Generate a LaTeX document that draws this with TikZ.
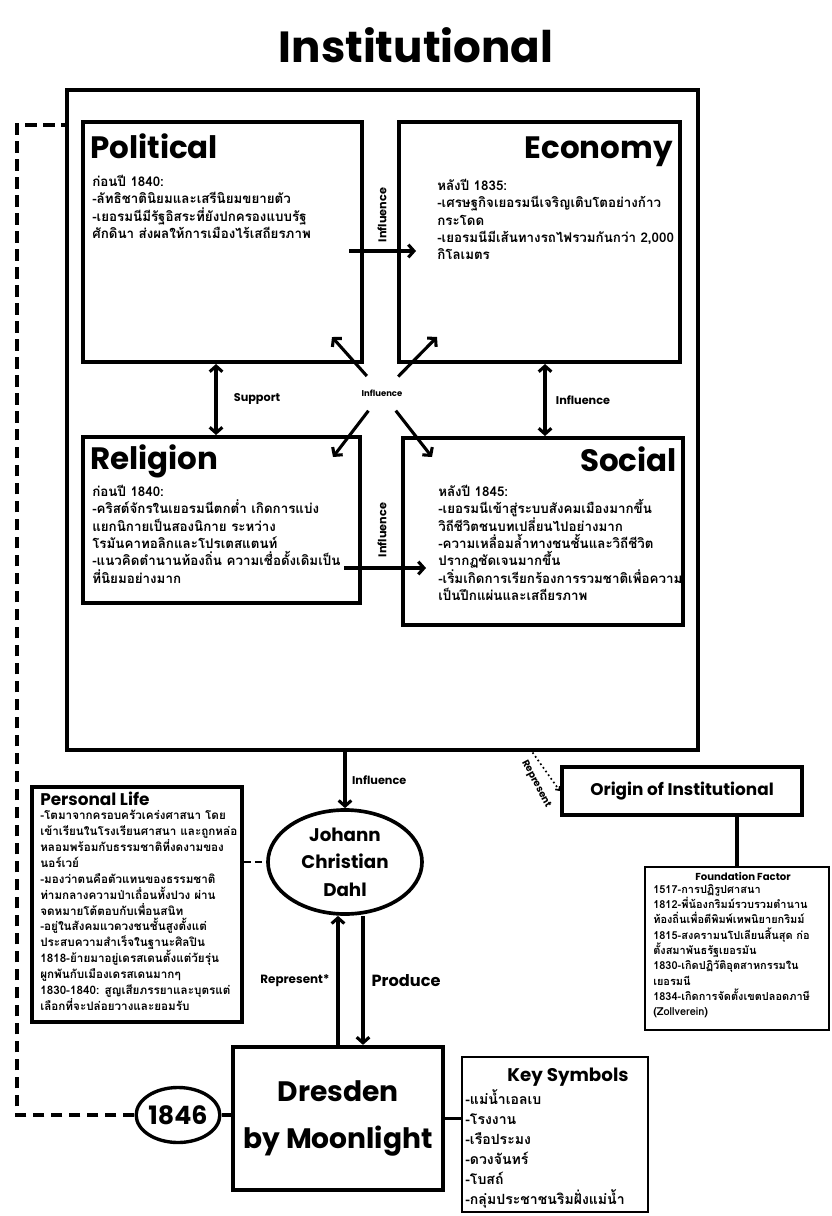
\documentclass[tikz,border=0pt]{standalone}
\usepackage{fontspec}
\setmainfont{Poppins}
\newfontfamily\thai[Script=Thai]{Loma}
\usetikzlibrary{arrows.meta, positioning, calc, shapes.geometric}

\begin{document}
\begin{tikzpicture}[
    x=0.025cm, y=-0.025cm,
    panel/.style={draw, line width=2.8pt, inner sep=0},
    heading/.style={font=\bfseries\fontsize{22}{26}\selectfont, inner sep=0},
    body/.style={font=\thai\bfseries\fontsize{9.5}{12.3}\selectfont, align=left, anchor=north west, inner sep=0},
    smallbody/.style={body, font=\thai\bfseries\fontsize{8.3}{11.3}\selectfont},
    tag/.style={font=\bfseries\fontsize{8}{9}\selectfont, inner sep=1pt},
    arrow/.style={-{Straight Barb[length=4pt,width=9pt]}, line width=2.2pt},
    twoway/.style={{Straight Barb[length=4pt,width=9pt]}-{Straight Barb[length=4pt,width=9pt]}, line width=2.2pt},
    link/.style={line width=2.2pt},
    dashlink/.style={line width=2.4pt, dash pattern=on 8.5pt off 4.3pt}
]
\useasboundingbox (0,0) rectangle (832,1216);

\node[heading, font=\bfseries\fontsize{31}{36}\selectfont] (title) at (416,45) {Institutional};

% four fields inside the big frame
\node[panel, line width=3.4pt, minimum width=15.775cm, minimum height=16.5cm] (outer) at (382.5,420) {};
\node[panel, minimum width=6.975cm, minimum height=6cm] (political) at (222.5,242) {};
\node[panel, minimum width=7.025cm, minimum height=6cm] (economy) at (539.5,242) {};
\node[panel, minimum width=6.925cm, minimum height=4.15cm] (religion) at (221.5,520) {};
\node[panel, minimum width=7cm, minimum height=4.675cm] (social) at (543,531.5) {};

\node[heading, anchor=base west] (polhead) at (90,158) {Political};
\node[body] (poltext) at (92,175) {ก่อนปี 1840:\\-ลัทธิชาตินิยมและเสรีนิยมขยายตัว\\-เยอรมนีมีรัฐอิสระที่ยังปกครองแบบรัฐ\\ศักดินา ส่งผลให้การเมืองไร้เสถียรภาพ};
\node[heading, anchor=base east] (ecohead) at (673,158) {Economy};
\node[body] (ecotext) at (437,179) {หลังปี 1835:\\-เศรษฐกิจเยอรมนีเจริญเติบโตอย่างก้าว\\กระโดด\\-เยอรมนีมีเส้นทางรถไฟรวมกันกว่า 2,000\\กิโลเมตร};
\node[heading, anchor=base west] (relhead) at (90,469) {Religion};
\node[body] (reltext) at (92,485) {ก่อนปี 1840:\\-คริสต์จักรในเยอรมนีตกต่ำ เกิดการแบ่ง\\แยกนิกายเป็นสองนิกาย ระหว่าง\\โรมันคาทอลิกและโปรเตสแตนท์\\-แนวคิดตำนานท้องถิ่น ความเชื่อดั้งเดิมเป็น\\ที่นิยมอย่างมาก};
\node[heading, anchor=base east] (sochead) at (677,471) {Social};
\node[body] (soctext) at (438,485) {หลังปี 1845:\\-เยอรมนีเข้าสู่ระบบสังคมเมืองมากขึ้น\\วิถีชีวิตชนบทเปลี่ยนไปอย่างมาก\\-ความเหลื่อมล้ำทางชนชั้นและวิถีชีวิต\\ปรากฏชัดเจนมากขึ้น\\-เริ่มเกิดการเรียกร้องการรวมชาติเพื่อความ\\เป็นปึกแผ่นและเสถียรภาพ};

\draw[arrow, shorten <=-0.375cm, shorten >=-0.475cm] ([yshift=-0.225cm]political.east) -- ([yshift=-0.225cm]political.east -| economy.west);
\node[tag, rotate=90] (influp) at (382,215) {Influence};
\draw[arrow, shorten <=-0.45cm, shorten >=-0.625cm] ([yshift=-1.2cm]religion.east) -- ([yshift=-1.2cm]religion.east -| social.west);
\node[tag, rotate=90] (infldown) at (382,530) {Influence};

\draw[twoway] ([xshift=3.375cm]political.south west) -- ([xshift=3.375cm]political.south west |- religion.north);
\node[tag] (support) at (257,399) {Support};
\draw[twoway] ([xshift=3.7cm]economy.south west) -- ([xshift=3.7cm]economy.south west |- social.north);
\node[tag] (inflright) at (583,400) {Influence};

% hub in the middle
\node[tag, font=\bfseries\fontsize{6}{7}\selectfont] (hub) at (382,393) {Influence};
\coordinate (tipNW) at (332,337);
\coordinate (tipNE) at (437,337);
\coordinate (tipSW) at (333,457);
\coordinate (tipSE) at (432,457);
\foreach \t in {tipNW, tipNE, tipSW, tipSE}
    \draw[arrow, shorten <=0.4cm] (hub) -- (\t);

% the painter
\node[draw, ellipse, line width=2.6pt, minimum width=3.85cm, minimum height=2.6cm] (dahl) at (345,862) {};
\node[font=\bfseries\fontsize{13}{19.5}\selectfont, align=center] (dahlname) at (dahl) {Johann\\Christian\\Dahl};
\draw[arrow] (outer.south -| dahl.north) -- node[tag, right=3pt] (inflbelow) {Influence} (dahl.north);

\node[panel, line width=2.2pt, minimum width=5.25cm, minimum height=5.875cm] (personal) at (137,904.5) {};
\node[heading, anchor=west, font=\bfseries\fontsize{12}{14}\selectfont] (perhead) at (40,799) {Personal Life};
\node[smallbody] (pertext) at (40,810) {-โตมาจากครอบครัวเคร่งศาสนา โดย\\เข้าเรียนในโรงเรียนศาสนา และถูกหล่อ\\หลอมพร้อมกับธรรมชาติที่งดงามของ\\นอร์เวย์\\-มองว่าตนคือตัวแทนของธรรมชาติ\\ท่ามกลางความป่าเถื่อนทั้งปวง ผ่าน\\จดหมายโต้ตอบกับเพื่อนสนิท\\-อยู่ในสังคมแวดวงชนชั้นสูงตั้งแต่\\ประสบความสำเร็จในฐานะศิลปิน\\1818-ย้ายมาอยู่เดรสเดนตั้งแต่วัยรุ่น\\ผูกพันกับเมืองเดรสเดนมากๆ\\1830-1840: สูญเสียภรรยาและบุตรแต่\\เลือกที่จะปล่อยวางและยอมรับ};
\draw[line width=1.3pt, dash pattern=on 5pt off 3pt] (personal.east |- dahl) -- (dahl.west);

% origin of the institutions
\node[panel, line width=3pt, minimum width=6cm, minimum height=1.2cm, font=\bfseries\fontsize{12}{14}\selectfont] (origin) at (682,791) {Origin of Institutional};
\draw[-{Straight Barb[length=2pt,width=4pt]}, line width=1.2pt, dotted] ([xshift=3.75cm]outer.south) -- (origin.west);
\node[tag, rotate=-62, font=\bfseries\fontsize{7}{8}\selectfont] (represent) at (536,784) {Represent};

\node[panel, line width=1.8pt, minimum width=4.6cm, minimum height=4.075cm] (foundation) at (737,948.5) {};
\node[font=\bfseries\fontsize{7.2}{8}\selectfont, inner sep=0] (foundhead) at (743,876) {Foundation Factor};
\node[smallbody, font=\thai\bfseries\fontsize{7.8}{10.9}\selectfont] (foundtext) at (653,884) {1517-การปฏิรูปศาสนา\\1812-พี่น้องกริมม์รวบรวมตำนาน\\ท้องถิ่นเพื่อตีพิมพ์เทพนิยายกริมม์\\1815-สงครามนโปเลียนสิ้นสุด ก่อ\\ตั้งสมาพันธรัฐเยอรมัน\\1830-เกิดปฏิวัติอุตสาหกรรมใน\\เยอรมนี\\1834-เกิดการจัดตั้งเขตปลอดภาษี\\(Zollverein)};
\draw[link] (foundation.north |- origin.south) -- (foundation.north);

% the painting
\node[panel, line width=3pt, minimum width=5.25cm, minimum height=3.575cm, align=center, font=\bfseries\fontsize{20}{33}\selectfont] (dresden) at (338,1118.5) {Dresden\\by Moonlight};
\draw[arrow] (dresden.north) -- node[tag, left=4pt, font=\bfseries\fontsize{8.5}{10}\selectfont] (represtar) {Represent*} (dresden.north |- dahl.south);
\draw[arrow] ([xshift=0.625cm]dresden.north |- dahl.south) -- node[tag, right=4pt, font=\bfseries\fontsize{11.5}{13}\selectfont] (produce) {Produce} ([xshift=0.625cm]dresden.north);

\node[draw, ellipse, line width=2.4pt, minimum width=2.075cm, minimum height=1.375cm, inner sep=0, font=\bfseries\fontsize{18}{20}\selectfont] (year) at (178,1115) {1846};
\draw[link] (year.east) -- (year.east -| dresden.west);
\coordinate (dashtop) at (17,125);
\draw[dashlink] (year.west) -| (dashtop) -- (dashtop -| outer.west);

\node[panel, line width=1.8pt, minimum width=4.65cm, minimum height=3.875cm] (key) at (555,1134.5) {};
\node[heading, font=\bfseries\fontsize{13}{15}\selectfont] (keyhead) at (568,1077) {Key Symbols};
\node[body, font=\thai\bfseries\fontsize{10}{14.2}\selectfont] (keytext) at (465,1089) {-แม่น้ำเอลเบ\\-โรงงาน\\-เรือประมง\\-ดวงจันทร์\\-โบสถ์\\-กลุ่มประชาชนริมฝั่งแม่น้ำ};
\draw[link] (dresden.east) -- (dresden.east -| key.west);
\end{tikzpicture}
\end{document}
